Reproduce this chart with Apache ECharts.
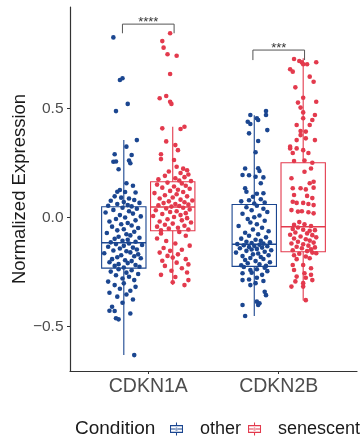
<!DOCTYPE html>
<html>
<head>
<meta charset="utf-8">
<script src="https://cdn.jsdelivr.net/npm/echarts@6/dist/echarts.min.js"></script>
<style>
  html, body { margin: 0; padding: 0; background: #fff; }
  #chart { width: 362px; height: 440px; }
</style>
</head>
<body>
<div id="chart"></div>
<script>
// box + jitter plot, normalized expression of two senescence genes

const genes = ['CDKN1A', 'CDKN2B']
const conditions = ['other', 'senescent']
const yTicks = [-0.5, 0, 0.5]

// [lower whisker, Q1, median, Q3, upper whisker] per gene
const boxOther = [
  [-0.630, -0.231, -0.115, 0.050, 0.356],
  [-0.451, -0.223, -0.122, 0.061, 0.470]
]
const boxSenescent = [
  [-0.309, -0.060, 0.049, 0.165, 0.417],
  [-0.380, -0.156, -0.041, 0.252, 0.731]
]

// jittered cells: [horizontal jitter, expression]
const otherCDKN1A = [
  [-0.08, 0.827], [-0.03, 0.632], [-0.01, 0.640], [0.03, 0.522], [-0.06, 0.489],
  [0.10, 0.356], [0.02, 0.326], [-0.07, 0.291], [0.06, 0.288], [0.04, 0.262], [-0.08, 0.257], [-0.06, 0.258],
  [0.05, 0.250], [-0.04, 0.222], [0.02, 0.158], [0.07, 0.147], [-0.03, 0.127], [-0.05, 0.119], [0.01, 0.118],
  [0.09, 0.116], [-0.07, 0.098], [-0.02, 0.092], [0.04, 0.088], [0.08, 0.081], [-0.10, 0.078], [0.00, 0.072],
  [0.12, 0.068], [-0.05, 0.063], [0.03, 0.058], [-0.12, 0.055], [0.06, 0.052],
  [-0.01, 0.046], [0.10, 0.041], [-0.08, 0.036], [0.04, 0.030], [-0.14, 0.024], [0.07, 0.019], [-0.03, 0.012],
  [0.13, 0.006], [0.01, 0.001], [-0.06, -0.006], [0.09, -0.012], [-0.11, -0.017], [0.03, -0.024], [-0.02, -0.030],
  [0.06, -0.036], [-0.09, -0.041], [0.11, -0.047], [0.00, -0.053], [-0.05, -0.058], [0.08, -0.064], [-0.13, -0.070],
  [0.02, -0.076], [0.05, -0.081], [-0.04, -0.087], [0.12, -0.092], [-0.07, -0.097], [0.03, -0.101], [-0.01, -0.106],
  [0.09, -0.110], [-0.10, -0.113],
  [0.04, -0.118], [-0.06, -0.121], [0.14, -0.125], [0.00, -0.129], [-0.12, -0.133], [0.07, -0.137], [-0.03, -0.141],
  [0.10, -0.146], [-0.08, -0.150], [0.02, -0.154], [0.05, -0.159], [-0.15, -0.163], [0.11, -0.168], [-0.02, -0.172],
  [0.08, -0.177], [-0.05, -0.181], [0.13, -0.186], [-0.09, -0.190], [0.01, -0.195], [0.06, -0.199], [-0.11, -0.204],
  [0.03, -0.208], [-0.04, -0.213], [0.09, -0.217], [-0.07, -0.221], [0.12, -0.225], [0.00, -0.228],
  [-0.04, -0.236], [0.06, -0.241], [-0.10, -0.247], [0.02, -0.252], [0.11, -0.258], [-0.06, -0.264], [0.04, -0.271],
  [-0.01, -0.279], [0.08, -0.286], [-0.12, -0.293], [0.00, -0.301], [-0.07, -0.309], [0.09, -0.317], [-0.03, -0.326],
  [0.05, -0.335], [-0.11, -0.344], [0.02, -0.352], [-0.05, -0.362], [0.07, -0.375], [-0.01, -0.390], [-0.09, -0.408],
  [-0.11, -0.427], [-0.07, -0.428], [0.05, -0.439], [-0.06, -0.461], [-0.04, -0.466], [0.08, -0.630]
]
const senescentCDKN1A = [
  [-0.02, 0.846], [-0.08, 0.810], [-0.07, 0.780], [-0.04, 0.750], [0.03, 0.743], [-0.02, 0.659], [-0.05, 0.558],
  [-0.10, 0.548], [-0.02, 0.532], [-0.01, 0.522],
  [-0.08, 0.410], [0.06, 0.407], [0.09, 0.417], [-0.05, 0.350], [0.02, 0.333], [0.04, 0.310], [-0.09, 0.291],
  [-0.09, 0.269], [0.01, 0.265], [0.03, 0.234], [0.08, 0.225], [0.11, 0.218], [-0.03, 0.212], [0.06, 0.205],
  [0.12, 0.198], [-0.06, 0.192], [0.09, 0.186], [0.02, 0.181], [-0.11, 0.176], [0.05, 0.171], [0.14, 0.168],
  [-0.04, 0.161], [0.07, 0.157], [-0.12, 0.152], [0.10, 0.147], [0.01, 0.143], [-0.08, 0.138], [0.13, 0.133],
  [0.04, 0.128], [-0.02, 0.123], [0.08, 0.118], [-0.14, 0.113], [0.03, 0.108], [-0.06, 0.103], [0.11, 0.098],
  [0.00, 0.093], [-0.10, 0.088], [0.06, 0.083], [0.15, 0.079], [-0.03, 0.075], [0.09, 0.071], [-0.07, 0.067],
  [0.02, 0.063], [0.12, 0.060], [-0.11, 0.057], [0.05, 0.054], [-0.01, 0.051],
  [0.08, 0.046], [-0.05, 0.042], [0.13, 0.038], [-0.13, 0.034], [0.03, 0.030], [-0.02, 0.026], [0.10, 0.021],
  [-0.08, 0.017], [0.06, 0.012], [-0.15, 0.008], [0.01, 0.003], [0.11, -0.002], [-0.04, -0.007], [0.07, -0.012],
  [-0.10, -0.017], [0.14, -0.022], [0.00, -0.027], [-0.06, -0.032], [0.09, -0.037], [-0.12, -0.041], [0.04, -0.046],
  [-0.03, -0.050], [0.12, -0.054], [-0.09, -0.058],
  [-0.09, -0.072], [-0.05, -0.107], [0.05, -0.065], [0.10, -0.083], [-0.12, -0.095], [0.02, -0.118], [0.13, -0.128],
  [-0.07, -0.139], [0.07, -0.147], [-0.02, -0.152], [-0.10, -0.160], [0.04, -0.168], [-0.04, -0.175], [0.00, -0.183],
  [0.10, -0.190], [-0.08, -0.197], [0.03, -0.206], [0.12, -0.214], [-0.06, -0.221], [0.07, -0.232], [-0.01, -0.243],
  [0.11, -0.251], [-0.09, -0.262], [0.02, -0.272], [0.12, -0.286], [0.00, -0.296], [0.09, -0.309]
]
const otherCDKN2B = [
  [0.09, 0.489], [-0.03, 0.471], [0.09, 0.471], [0.02, 0.456], [-0.05, 0.440], [0.03, 0.448], [-0.03, 0.430],
  [0.10, 0.402], [-0.04, 0.387], [0.03, 0.352], [0.01, 0.300],
  [-0.07, 0.226], [0.04, 0.214], [0.03, 0.227], [-0.09, 0.196], [-0.04, 0.195], [0.01, 0.188], [0.07, 0.185],
  [0.05, 0.158], [-0.07, 0.135], [-0.06, 0.119], [0.07, 0.112], [0.02, 0.110], [-0.01, 0.096], [0.05, 0.085],
  [-0.04, 0.080], [-0.10, 0.075], [0.08, 0.070], [0.00, 0.065],
  [0.02, 0.055], [-0.06, 0.048], [0.07, 0.041], [-0.02, 0.034], [0.10, 0.026], [-0.09, 0.018], [0.04, 0.010],
  [0.00, 0.002], [-0.05, -0.006], [0.08, -0.014], [-0.03, -0.022], [0.02, -0.030], [-0.12, -0.038], [0.06, -0.046],
  [-0.01, -0.054], [0.11, -0.062], [-0.07, -0.069], [0.03, -0.076], [-0.04, -0.083], [0.09, -0.090], [-0.10, -0.096],
  [0.01, -0.101], [0.05, -0.106], [-0.06, -0.110], [0.12, -0.113], [-0.02, -0.116], [0.07, -0.119], [-0.13, -0.121],
  [0.04, -0.124], [-0.08, -0.126], [0.00, -0.129], [0.10, -0.131], [-0.04, -0.134], [0.06, -0.137], [-0.11, -0.140],
  [0.02, -0.143], [-0.02, -0.146], [0.13, -0.149], [-0.06, -0.152], [0.08, -0.156], [-0.14, -0.160], [0.03, -0.164],
  [-0.01, -0.168], [0.11, -0.172], [-0.09, -0.176], [0.05, -0.180], [-0.03, -0.185], [0.07, -0.189], [-0.07, -0.194],
  [0.01, -0.199], [0.12, -0.204], [-0.05, -0.209], [0.04, -0.214], [-0.10, -0.218], [0.09, -0.221],
  [-0.08, -0.226], [0.08, -0.229], [-0.03, -0.240], [0.02, -0.236], [0.10, -0.245], [-0.09, -0.255], [-0.02, -0.252],
  [0.06, -0.262], [-0.09, -0.286], [-0.04, -0.283], [0.02, -0.275], [0.07, -0.290], [-0.03, -0.309], [0.01, -0.300],
  [0.08, -0.340], [0.09, -0.355], [0.02, -0.385], [0.03, -0.400], [0.04, -0.392], [-0.09, -0.400], [-0.07, -0.451]
]
const senescentCDKN2B = [
  [-0.07, 0.728], [-0.03, 0.719], [-0.01, 0.713], [0.00, 0.704], [0.03, 0.704], [0.10, 0.713], [-0.10, 0.681],
  [-0.08, 0.670], [0.05, 0.647], [0.08, 0.624], [-0.06, 0.598], [0.00, 0.550], [-0.04, 0.528], [0.10, 0.532],
  [-0.02, 0.505], [0.00, 0.483], [0.00, 0.456], [0.07, 0.448], [0.05, 0.425], [-0.05, 0.425], [-0.02, 0.398],
  [0.09, 0.471], [0.02, 0.395], [-0.02, 0.379],
  [-0.05, 0.356], [0.02, 0.364], [0.09, 0.356], [-0.10, 0.326], [-0.10, 0.318], [-0.05, 0.318], [0.00, 0.310],
  [-0.08, 0.297], [0.04, 0.297], [-0.07, 0.260], [0.01, 0.262], [0.07, 0.252],
  [0.06, 0.226], [0.01, 0.211], [-0.09, 0.181], [0.08, 0.165], [0.05, 0.158], [-0.08, 0.135], [-0.02, 0.135],
  [0.02, 0.130], [0.08, 0.138], [-0.07, 0.104], [0.03, 0.100], [0.07, 0.090], [-0.08, 0.073], [-0.05, 0.068],
  [0.00, 0.068], [0.04, 0.063], [0.08, 0.058], [-0.09, 0.035], [-0.04, 0.028], [0.04, 0.025], [0.08, 0.020],
  [-0.01, 0.030], [-0.07, -0.033], [0.01, -0.030], [0.06, -0.038], [-0.03, -0.020],
  [-0.04, -0.045], [-0.08, -0.052], [0.00, -0.055], [0.05, -0.060], [0.09, -0.057], [-0.06, -0.068], [0.03, -0.072],
  [-0.10, -0.078], [0.07, -0.080], [-0.02, -0.086], [0.10, -0.090], [-0.07, -0.095], [0.02, -0.099], [0.05, -0.105],
  [-0.04, -0.110], [0.08, -0.114], [-0.09, -0.118], [0.00, -0.122], [0.04, -0.128], [-0.05, -0.133], [0.09, -0.136],
  [-0.01, -0.140], [0.06, -0.145], [-0.08, -0.149], [0.03, -0.153],
  [0.07, -0.160], [-0.03, -0.165], [0.10, -0.163], [-0.07, -0.172], [0.02, -0.178], [0.05, -0.186], [-0.05, -0.190],
  [-0.08, -0.217], [0.00, -0.217], [0.06, -0.232], [-0.07, -0.240], [0.01, -0.255], [0.06, -0.262], [-0.05, -0.270],
  [0.02, -0.275], [0.07, -0.286], [-0.06, -0.292], [0.00, -0.300], [-0.09, -0.316], [0.00, -0.316], [0.02, -0.378]
]

// significance brackets: [top, bottom of the end ticks]
const sigLabels = ['****', '***']
const sigBrackets = [[0.888, 0.846], [0.769, 0.723]]

const colors = { other: '#1b4690', senescent: '#e33a4d' }
const DODGE = 0.1875
const BOX_W = 0.34

const chart = echarts.init(document.getElementById('chart'))

function boxData(stats, offset) {
  return stats.map((s, i) => [i + 1 + offset].concat(s))
}
function jitterData(points, gi, offset) {
  return points.map(p => [gi + 1 + offset + p[0], p[1]])
}

function renderBox(params, api) {
  const x = api.value(0)
  const lo = api.value(1), q1 = api.value(2), med = api.value(3), q3 = api.value(4), hi = api.value(5)
  const color = api.visual('color')
  const tl = api.coord([x - BOX_W / 2, q3])
  const br = api.coord([x + BOX_W / 2, q1])
  const m = api.coord([x, med])
  const pHi = api.coord([x, hi])
  const pLo = api.coord([x, lo])
  const style = { stroke: color, fill: null, lineWidth: 1.1 }
  return {
    type: 'group',
    children: [
      { type: 'line', shape: { x1: m[0], y1: pHi[1], x2: m[0], y2: tl[1] }, style },
      { type: 'line', shape: { x1: m[0], y1: br[1], x2: m[0], y2: pLo[1] }, style },
      { type: 'rect', shape: { x: tl[0], y: tl[1], width: br[0] - tl[0], height: br[1] - tl[1] }, style },
      { type: 'line', shape: { x1: tl[0], y1: m[1], x2: br[0], y2: m[1] }, style: { stroke: color, lineWidth: 1.5 } }
    ]
  }
}

function renderSig(params, api) {
  const x = api.value(0)
  const top = api.value(1), bottom = api.value(2)
  const half = 0.198
  const a = api.coord([x - half, bottom])
  const b = api.coord([x - half, top])
  const c = api.coord([x + half, top])
  const d = api.coord([x + half, bottom])
  const mid = api.coord([x, top])
  return {
    type: 'group',
    children: [
      { type: 'polyline', shape: { points: [a, b, c, d] }, style: { stroke: '#555', fill: null, lineWidth: 1 } },
      {
        type: 'text',
        style: {
          x: mid[0], y: mid[1] - 2,
          text: sigLabels[params.dataIndex],
          fill: '#333', font: '13px "Liberation Sans", Arial, sans-serif',
          align: 'center', verticalAlign: 'middle'
        }
      }
    ]
  }
}

const legendIcon = 'path://M0,4H20V16H0Z M1.6,5.6V14.4H18.4V5.6Z M1.6,9.2H18.4V10.8H1.6Z ' +
  'M9.2,0H10.8V4H9.2Z M9.2,16H10.8V20H9.2Z M7.6,10A2.4,2.4 0 1,0 12.4,10A2.4,2.4 0 1,0 7.6,10Z'

const fontFamily = '"Liberation Sans", Arial, sans-serif'

const option = {
  animation: false,
  textStyle: { fontFamily },
  grid: { left: 70, right: 5, top: 7, bottom: 69, containLabel: false, outerBoundsMode: 'none' },
  xAxis: {
    type: 'value',
    min: 0.4,
    max: 2.6,
    splitLine: { show: false },
    axisLine: { onZero: false, lineStyle: { color: '#333', width: 1.2 } },
    axisTick: { show: true, length: 3, customValues: [1, 2], lineStyle: { color: '#333' } },
    axisLabel: {
      customValues: [1, 2],
      formatter: v => genes[Math.round(v) - 1],
      fontSize: 19.5,
      color: '#4d4d4d',
      margin: 6
    }
  },
  yAxis: {
    type: 'value',
    min: -0.703,
    max: 0.9665,
    name: 'Normalized Expression',
    nameLocation: 'middle',
    nameGap: 41,
    nameMoveOverlap: false,
    nameTextStyle: { fontSize: 18.5, color: '#1a1a1a' },
    splitLine: { show: false },
    axisLine: { show: true, onZero: false, lineStyle: { color: '#333', width: 1.2 } },
    axisTick: { show: true, length: 3, customValues: yTicks, lineStyle: { color: '#333' } },
    axisLabel: {
      customValues: yTicks,
      formatter: v => v.toFixed(1).replace('-', '\u2212'),
      fontSize: 15.5,
      color: '#4d4d4d',
      margin: 6.5
    }
  },
  legend: {
    left: 170,
    top: 420,
    padding: 0,
    itemWidth: 13,
    itemHeight: 13,
    itemGap: 7,
    selectedMode: false,
    textStyle: { fontSize: 18, color: '#1a1a1a', padding: [0, 0, 0, 12] },
    data: conditions.map(c => ({ name: c, icon: legendIcon }))
  },
  graphic: [
    {
      type: 'text',
      left: 75,
      top: 419,
      style: { text: 'Condition', fontSize: 19, fill: '#1a1a1a', fontFamily }
    }
  ],
  series: [
    {
      name: 'other', type: 'custom', z: 2, silent: true,
      itemStyle: { color: colors.other },
      renderItem: renderBox,
      data: boxData(boxOther, -DODGE)
    },
    {
      name: 'senescent', type: 'custom', z: 2, silent: true,
      itemStyle: { color: colors.senescent },
      renderItem: renderBox,
      data: boxData(boxSenescent, DODGE)
    },
    {
      name: 'other', type: 'scatter', z: 3, silent: true,
      symbolSize: 4.6,
      itemStyle: { color: colors.other, opacity: 1 },
      data: jitterData(otherCDKN1A, 0, -DODGE).concat(jitterData(otherCDKN2B, 1, -DODGE))
    },
    {
      name: 'senescent', type: 'scatter', z: 3, silent: true,
      symbolSize: 4.6,
      itemStyle: { color: colors.senescent, opacity: 1 },
      data: jitterData(senescentCDKN1A, 0, DODGE).concat(jitterData(senescentCDKN2B, 1, DODGE))
    },
    {
      name: 'sig', type: 'custom', z: 4, silent: true,
      renderItem: renderSig,
      data: sigBrackets.map((b, i) => [i + 1, b[0], b[1]])
    }
  ]
}

chart.setOption(option)
</script>
</body>
</html>
